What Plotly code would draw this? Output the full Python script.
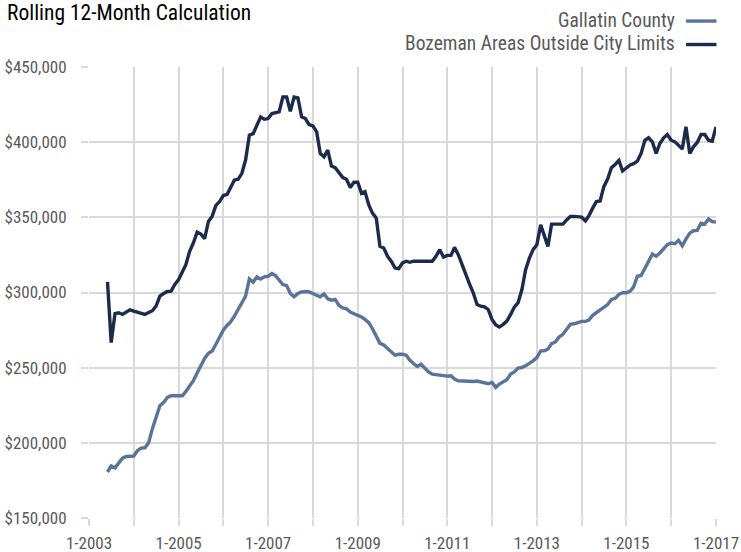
import pandas as pd
import plotly.graph_objects as go

# ---- data (monthly, Jun 2003 - Jan 2017) ----
start_month = "2003-06-01"

bozeman_outside = [
    307100, 266700, 285900, 286500, 285400, 287000, 288500,                                   # 2003 Jun-Dec
    287600, 286700, 286100, 285400, 286700, 287900, 291000, 297600, 299300, 300700, 300900, 305300,  # 2004
    308600, 314100, 318500, 327400, 332900, 340200, 338900, 335800, 347300, 350600, 357900, 360500,  # 2005
    364500, 365300, 369300, 374800, 375300, 379300, 388100, 404600, 405700, 411200, 416800, 415200,  # 2006
    415700, 419000, 419600, 420100, 430000, 430000, 420500, 430000, 429400, 416800, 415700, 411700,  # 2007
    410800, 406800, 392500, 390300, 394700, 384100, 383000, 379900, 376400, 375300, 369800, 373300,  # 2008
    373300, 366000, 367100, 358300, 352800, 349500, 330700, 329600, 324100, 320800, 316300, 315900,  # 2009
    319700, 320800, 320100, 320800, 320800, 320800, 320800, 320800, 320800, 324100, 328500, 323600,  # 2010
    324700, 324700, 330000, 325200, 318500, 310800, 305700, 299800, 292000, 290900, 290500, 288700,  # 2011
    282100, 278400, 277000, 278800, 281000, 285400, 290300, 293200, 302000, 315200, 322900, 328500,  # 2012
    331800, 345000, 338400, 330700, 345500, 345500, 345500, 345500, 348300, 350600, 350600, 350600,  # 2013
    350100, 347700, 351000, 356100, 360500, 360900, 370400, 375500, 383000, 385200, 387900, 380800,  # 2014
    382600, 384800, 385700, 387400, 392500, 401300, 402900, 400200, 392500, 399100, 402900, 405100,  # 2015
    401300, 400200, 398000, 395400, 410200, 392500, 396900, 399800, 405100, 405100, 401300, 400700,  # 2016
    410200,                                                                                       # 2017 Jan
]

gallatin_county = [
    180600, 184600, 183400, 186800, 189800, 190900, 191200,
    191200, 194900, 196500, 196700, 200000, 209300, 216300, 224700, 226900, 230200, 231300, 231300,
    231300, 231300, 234200, 237900, 241300, 246400, 251200, 256100, 259600, 261100, 265600, 270600,
    275100, 278200, 280400, 284300, 289200, 293200, 297600, 309000, 306800, 310400, 309000, 310400,
    310800, 312600, 311300, 308600, 305300, 304600, 299300, 297100, 299300, 300400, 300700, 300400,
    299300, 298000, 297100, 299100, 295800, 294900, 295400, 291400, 289800, 289200, 287000, 285900,
    285000, 283700, 282100, 279900, 275900, 270600, 266200, 265100, 262700, 260500, 258300, 258900,
    258900, 258300, 255000, 252800, 250800, 252300, 250100, 247200, 245700, 245300, 245000, 244600,
    244400, 244600, 242400, 241300, 241100, 240800, 240800, 240800, 241100, 240600, 240000, 239300,
    240200, 236900, 239100, 240600, 242000, 245700, 247200, 249700, 250100, 251200, 252800, 254500,
    256700, 261200, 261200, 262300, 266000, 267100, 270400, 272200, 275500, 278800, 279200, 279900,
    280800, 280800, 281700, 284800, 286500, 288700, 290500, 292000, 295400, 296000, 298700, 299800,
    299800, 300900, 303700, 310800, 311300, 315700, 320700, 325600, 324100, 326300, 328900, 331800,
    332900, 332500, 334700, 331100, 335500, 339500, 341100, 341300, 346100, 345500, 348800, 347200,
    346800,
]

series_names = ["Gallatin County", "Bozeman Areas Outside City Limits"]
series_colors = ["#5a7499", "#1c2b4b"]

tick_years = list(range(2003, 2018))
tick_labels = ["1-%d" % y if (y - 2003) % 2 == 0 else "" for y in tick_years]

title_text = "Rolling 12-Month Calculation"

dates = pd.date_range(start_month, periods=len(bozeman_outside), freq="MS")

FONT = "Liberation Sans Narrow, Arial Narrow, Roboto Condensed, Liberation Sans, sans-serif"

fig = go.Figure()
for name, vals, col in zip(series_names, [gallatin_county, bozeman_outside], series_colors):
    fig.add_trace(go.Scatter(x=dates, y=vals, mode="lines", name=name,
                             line=dict(color=col, width=3.4), showlegend=False))

# pixel helpers for paper coords
L, R, T, B = 88.5, 716.5, 66.5, 518.0
def px(x):
    return (x - L) / (R - L)
def py(y):
    return (B - y) / (B - T)

annotations = [
    dict(text=title_text, x=px(4), y=py(11.5), xref="paper", yref="paper",
         xanchor="left", yanchor="middle", showarrow=False,
         font=dict(family=FONT, size=21.5, color="#000000")),
]
shapes = []
for i, (name, col) in enumerate(zip(series_names, series_colors)):
    ycen = [19.5, 43.0][i]
    annotations.append(dict(text=name, x=px(677), y=py(ycen), xref="paper", yref="paper",
                            xanchor="right", yanchor="middle", showarrow=False,
                            font=dict(family=FONT, size=19.5, color="#595959")))
    shapes.append(dict(type="line", xref="paper", yref="paper",
                       x0=px(686.5), x1=px(717), y0=py(ycen + 1), y1=py(ycen + 1),
                       line=dict(color=col, width=3.4)))

fig.update_layout(
    width=741, height=552,
    margin=dict(l=L, r=741 - R, t=T, b=552 - B, pad=0),
    paper_bgcolor="white", plot_bgcolor="white",
    annotations=annotations, shapes=shapes,
    font=dict(family=FONT, color="#595959", size=17),
)
fig.update_xaxes(
    type="date", range=["2003-01-01", "2017-01-01"], automargin=False,
    tickmode="array", tickvals=[pd.Timestamp(y, 1, 1) for y in tick_years], ticktext=tick_labels,
    showgrid=True, gridcolor="#d9d9d9", gridwidth=2,
    ticks="outside", ticklen=7, tickcolor="#d9d9d9", tickwidth=2,
    ticklabelstandoff=3,
    showline=False, zeroline=False,
    tickfont=dict(family=FONT, size=17, color="#595959"),
)
fig.update_yaxes(
    range=[150000, 450000], dtick=50000, tick0=150000, tickformat="$,.0f", automargin=False,
    showgrid=True, gridcolor="#d9d9d9", gridwidth=2,
    ticks="outside", ticklen=7, tickcolor="#d9d9d9", tickwidth=2,
    ticklabelstandoff=11,
    showline=False, zeroline=False,
    tickfont=dict(family=FONT, size=17, color="#595959"),
)

fig.write_html("out.html", config={"displayModeBar": False},
               post_script="document.body.style.margin='0';document.body.style.overflow='hidden';")
